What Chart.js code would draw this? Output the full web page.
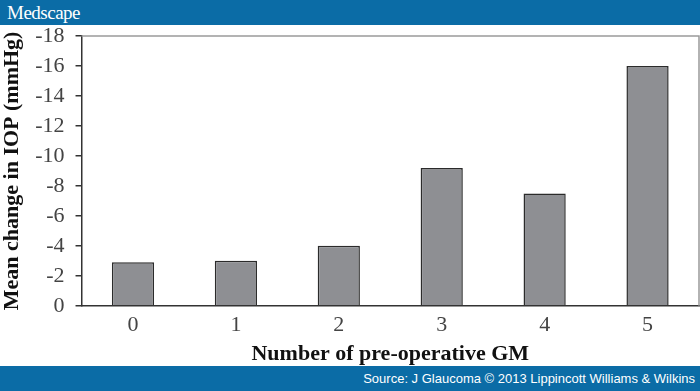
<!DOCTYPE html>
<html>
<head>
<meta charset="utf-8">
<script src="https://cdn.jsdelivr.net/npm/chart.js@4"></script>
<style>
  body { margin: 0; width: 700px; height: 391px; background: #fff; overflow: hidden; position: relative; }
  #top { position: absolute; left: 0; top: 0; width: 693px; height: 25px; background: #0b6ca6; color: #fff; font-family: "Liberation Serif", serif; font-size: 19px; line-height: 25px; padding-left: 7px; letter-spacing: -0.5px; }
  #bottom { position: absolute; left: 0; top: 366px; width: 695px; height: 25px; background: #0b6ca6; color: #fff; font-family: "Liberation Sans", Arial, sans-serif; font-size: 13px; line-height: 25px; text-align: right; padding-right: 5px; }
  #gmChart { position: absolute; left: 0; top: 14px; }
</style>
</head>
<body>
<div id="top">Medscape</div>
<div id="bottom">Source: J Glaucoma © 2013 Lippincott Williams &amp; Wilkins</div>
<canvas id="gmChart" width="700" height="352"></canvas>
<script>
const categories = ["0", "1", "2", "3", "4", "5"];
const meanChange = [-2.9, -3.0, -4.0, -9.2, -7.5, -16.0];

// gray frame on top and right of the plot area
const frame = {
    id: "frame",
    afterDraw(chart) {
        const a = chart.chartArea, c = chart.ctx;
        c.save();
        c.strokeStyle = "#9a9a9a";
        c.lineWidth = 1.5;
        c.beginPath();
        c.moveTo(a.left, a.top);
        c.lineTo(a.right, a.top);
        c.lineTo(a.right, a.bottom);
        c.stroke();
        c.restore();
    }
};

const serif = "'Liberation Serif', 'Times New Roman', serif";

new Chart(document.getElementById("gmChart").getContext("2d"), {
    type: "bar",
    data: {
        labels: categories,
        datasets: [{
            data: meanChange,
            backgroundColor: "#8e8f93",
            borderColor: "#2b2b2b",
            borderWidth: 1.5,
            barPercentage: 0.82,
            categoryPercentage: 0.5
        }]
    },
    options: {
        responsive: false,
        animation: false,
        layout: { padding: { top: 2, left: 0, right: 1, bottom: 0 } },
        plugins: { legend: { display: false }, tooltip: { enabled: false } },
        scales: {
            x: {
                grid: { display: false, drawTicks: false },
                border: { color: "#333", width: 1.5 },
                ticks: { color: "#444", font: { family: serif, size: 22, lineHeight: 1 }, padding: 8 },
                title: {
                    display: true,
                    text: "Number of pre-operative GM",
                    color: "#111",
                    font: { family: serif, size: 22, weight: "bold", lineHeight: 1.1 },
                    padding: { top: -2, bottom: 0 }
                }
            },
            y: {
                min: -18,
                max: 0,
                reverse: true,
                grid: { drawOnChartArea: false, tickLength: 6, color: "#333", lineWidth: 1.5 },
                border: { color: "#333", width: 1.5 },
                ticks: { stepSize: 2, autoSkip: false, color: "#444", font: { family: serif, size: 22, lineHeight: 1 }, padding: 11 },
                title: {
                    display: true,
                    text: "Mean change in IOP (mmHg)",
                    color: "#111",
                    font: { family: serif, size: 22, weight: "bold", lineHeight: 1.1 },
                    padding: { top: 0, bottom: 0 }
                }
            }
        }
    },
    plugins: [frame]
});
</script>
</body>
</html>
